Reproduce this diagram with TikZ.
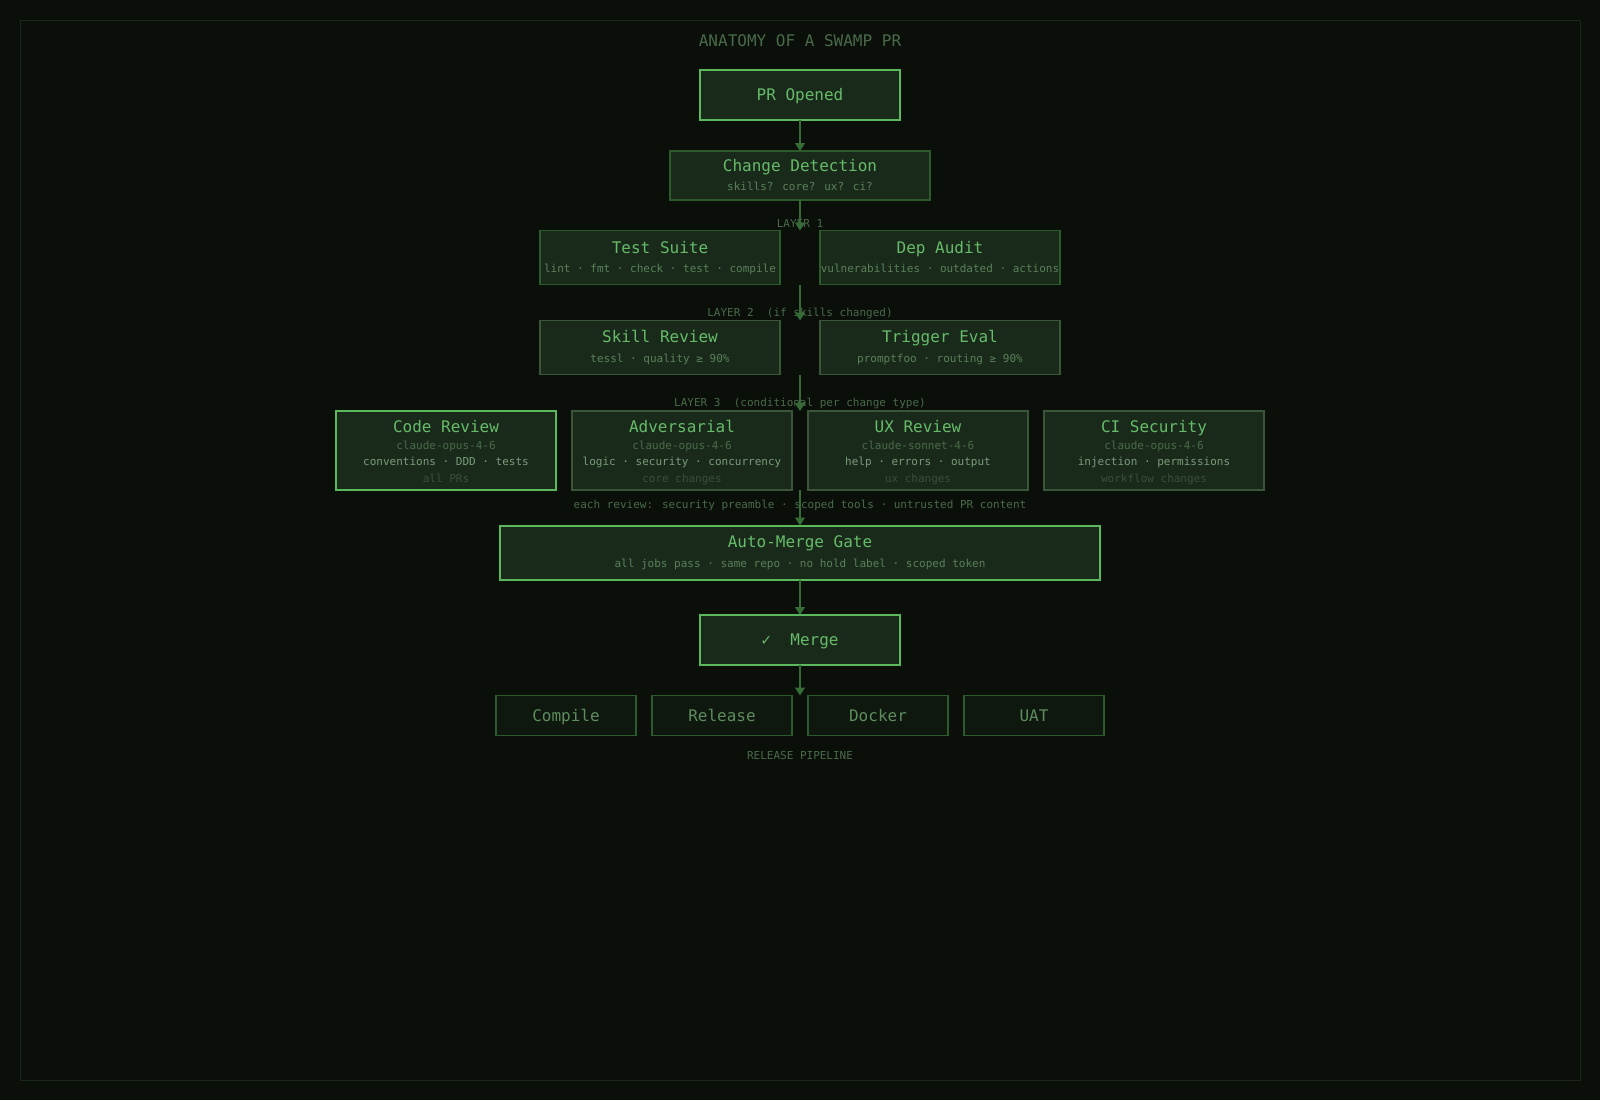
\documentclass[tikz,border=0pt]{standalone}
\usepackage{fontspec}
\setmainfont{DejaVu Sans Mono}
\usepackage{tikz}
\usetikzlibrary{positioning,arrows.meta}

\definecolor{bg}{HTML}{0A0F0A}
\definecolor{framecol}{HTML}{1A261A}
\definecolor{boxfill}{HTML}{1A2A1A}
\definecolor{relfill}{HTML}{0E180E}
\definecolor{hiline}{HTML}{5CB85C}
\definecolor{midline}{HTML}{2D5A2D}
\definecolor{greyline}{HTML}{3A553A}
\definecolor{ttlgreen}{HTML}{66BB6A}
\definecolor{subgreen}{HTML}{5A7F5A}
\definecolor{lblgreen}{HTML}{4A6A4A}
\definecolor{descgreen}{HTML}{7A9A7A}
\definecolor{condgreen}{HTML}{3A4E3A}
\definecolor{relgreen}{HTML}{5E8C5E}
\definecolor{arrowgreen}{HTML}{356B35}

\begin{document}
\begin{tikzpicture}[
    x=1pt, y=-1pt,
    box/.style={rectangle, fill=boxfill, draw=midline, line width=1.5pt, inner sep=0pt, outer sep=0pt},
    hibox/.style={box, draw=hiline, line width=2pt},
    grbox/.style={box, draw=greyline},
    relbox/.style={rectangle, fill=relfill, draw=midline, line width=1.5pt, outer sep=0pt, minimum width=140pt, minimum height=40pt, font=\fontsize{16}{19}\selectfont, text=relgreen, text height=11.7pt, text depth=0pt},
    ttl/.style={font=\fontsize{16}{19}\selectfont, text=ttlgreen, inner sep=0pt, text height=11.7pt, text depth=0pt},
    sub/.style={font=\fontsize{11}{13}\selectfont, text=subgreen, inner sep=0pt, text height=7pt, text depth=0pt},
    model/.style={sub, text=lblgreen},
    desc/.style={sub, text=descgreen},
    cond/.style={sub, text=condgreen},
    lbl/.style={font=\fontsize{11}{13}\selectfont, text=lblgreen, inner sep=0pt, text height=8pt, text depth=0pt},
    arrow/.style={-{Triangle[width=10pt,length=8pt]}, draw=arrowgreen, fill=arrowgreen, line width=1.5pt}
]

% Background and frame
\useasboundingbox (0,0) rectangle (1600,1100);
\fill[bg] (0,0) rectangle (1600,1100);
\draw[framecol, line width=1pt] (20,20) rectangle (1580,1080);

\node[lbl, font=\fontsize{16}{19}\selectfont, text height=11.7pt] (main_title) at (800,41) {ANATOMY OF A SWAMP PR};

% Entry
\node[hibox, minimum width=200pt, minimum height=50pt, ttl] (pr_open) at (800,95) {PR Opened};

\node[box, minimum width=260pt, minimum height=49pt] (chg_det) at (800,175.5) {};
\node[ttl] (chg_det_t) at (800,165.5) {Change Detection};
\node[sub] (chg_det_s) at (800,187) {skills? core? ux? ci?};

% Layer 1
\node[lbl] (layer1) at (800,223.5) {LAYER 1};

\node[box, minimum width=240pt, minimum height=54pt] (test_suite) at (660,257.5) {};
\node[ttl] (test_suite_t) at (660,247.5) {Test Suite};
\node[sub] (test_suite_s) at (660,268.5) {lint · fmt · check · test · compile};

\node[box, minimum width=240pt, minimum height=54pt] (dep_audit) at (940,257.5) {};
\node[ttl] (dep_audit_t) at (dep_audit |- test_suite_t) {Dep Audit};
\node[sub] (dep_audit_s) at (dep_audit |- test_suite_s) {vulnerabilities · outdated · actions};

% Layer 2
\node[lbl] (layer2) at (800,312) {LAYER 2~~(if skills changed)};

\node[grbox, minimum width=240pt, minimum height=54pt] (skill_rev) at (660,347.5) {};
\node[ttl] (skill_rev_t) at (660,337) {Skill Review};
\node[sub] (skill_rev_s) at (660,358.5) {tessl · quality ≥ 90\%};

\node[grbox, minimum width=240pt, minimum height=54pt] (trig_eval) at (940,347.5) {};
\node[ttl] (trig_eval_t) at (trig_eval |- skill_rev_t) {Trigger Eval};
\node[sub] (trig_eval_s) at (trig_eval |- skill_rev_s) {promptfoo · routing ≥ 90\%};

% Layer 3
\node[lbl] (layer3) at (800,402) {LAYER 3~~(conditional per change type)};

\node[hibox, minimum width=220pt, minimum height=79pt] (code_rev) at (446,450.5) {};
\node[grbox, minimum width=220pt, minimum height=79pt, right=16pt of code_rev] (adv_rev) {};
\node[grbox, minimum width=220pt, minimum height=79pt, right=16pt of adv_rev] (ux_rev) {};
\node[grbox, minimum width=220pt, minimum height=79pt, right=16pt of ux_rev] (ci_sec) {};

\node[ttl] (code_rev_t) at (446,426.5) {Code Review};
\node[model] (code_rev_m) at (446,446) {claude-opus-4-6};
\node[desc] (code_rev_d) at (446,462) {conventions · DDD · tests};
\node[cond] (code_rev_c) at (446,478.5) {all PRs};

\node[ttl] (adv_rev_t) at (adv_rev |- code_rev_t) {Adversarial};
\node[model] (adv_rev_m) at (adv_rev |- code_rev_m) {claude-opus-4-6};
\node[desc] (adv_rev_d) at (adv_rev |- code_rev_d) {logic · security · concurrency};
\node[cond] (adv_rev_c) at (adv_rev |- code_rev_c) {core changes};

\node[ttl] (ux_rev_t) at (ux_rev |- code_rev_t) {UX Review};
\node[model] (ux_rev_m) at (ux_rev |- code_rev_m) {claude-sonnet-4-6};
\node[desc] (ux_rev_d) at (ux_rev |- code_rev_d) {help · errors · output};
\node[cond] (ux_rev_c) at (ux_rev |- code_rev_c) {ux changes};

\node[ttl] (ci_sec_t) at (ci_sec |- code_rev_t) {CI Security};
\node[model] (ci_sec_m) at (ci_sec |- code_rev_m) {claude-opus-4-6};
\node[desc] (ci_sec_d) at (ci_sec |- code_rev_d) {injection · permissions};
\node[cond] (ci_sec_c) at (ci_sec |- code_rev_c) {workflow changes};

\node[lbl, text height=7pt] (review_note) at (800,505) {each review: security preamble · scoped tools · untrusted PR content};

% Gate and merge
\node[hibox, minimum width=600pt, minimum height=54pt] (gate) at (800,552.5) {};
\node[ttl] (gate_t) at (800,542) {Auto-Merge Gate};
\node[sub] (gate_s) at (800,564) {all jobs pass · same repo · no hold label · scoped token};

\node[hibox, minimum width=200pt, minimum height=50pt, ttl] (merge) at (800,640) {✓~~Merge};

% Release pipeline
\node[relbox] (rel_compile) at (566,715.5) {Compile};
\node[relbox, right=16pt of rel_compile] (rel_release) {Release};
\node[relbox, right=16pt of rel_release] (rel_docker) {Docker};
\node[relbox, right=16pt of rel_docker] (rel_uat) {UAT};

\node[lbl] (rel_label) at (800,755) {RELEASE PIPELINE};

% Flow arrows
\draw[arrow] (pr_open.south) -- (chg_det.north);
\draw[arrow] (chg_det.south) -- (chg_det.south |- test_suite.north);
\draw[arrow] (chg_det.south |- test_suite.south) -- (chg_det.south |- skill_rev.north);
\draw[arrow] (chg_det.south |- skill_rev.south) -- (chg_det.south |- code_rev.north);
\draw[arrow] (chg_det.south |- code_rev.south) -- (gate.north);
\draw[arrow] (gate.south) -- (merge.north);
\draw[arrow] (merge.south) -- (merge.south |- rel_compile.north);

\end{tikzpicture}
\end{document}
